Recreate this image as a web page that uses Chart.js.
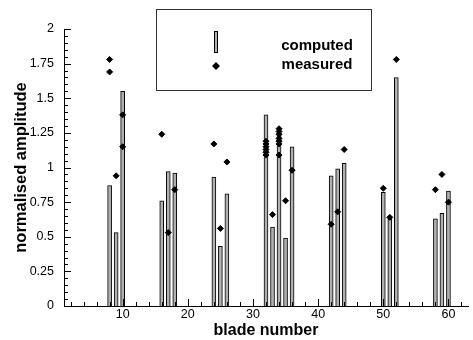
<!DOCTYPE html>
<html>
<head>
<meta charset="utf-8">
<script src="https://cdn.jsdelivr.net/npm/chart.js@4/dist/chart.umd.min.js"></script>
<style>
  html, body { margin: 0; padding: 0; background: #fff; }
  #wrap { width: 473px; height: 340px; position: relative; }
</style>
</head>
<body>
<div id="wrap"><canvas id="c" width="473" height="340"></canvas></div>
<script>
// ---- data ----
const computedBlades = [8, 9, 10, 16, 17, 18, 24, 25, 26, 32, 33, 34, 35, 36, 42, 43, 44, 50, 51, 52, 58, 59, 60];
const computedValues = [0.87, 0.53, 1.55, 0.76, 0.97, 0.96, 0.93, 0.43, 0.81, 1.38, 0.57, 1.25, 0.49, 1.15, 0.94, 0.99, 1.03, 0.82, 0.63, 1.65, 0.63, 0.67, 0.83];

const measuredBlades = [8, 8, 9, 10, 10, 16, 17, 18, 24, 25, 26,
  32, 32, 32, 32, 32, 32, 33,
  34, 34, 34, 34, 34, 34, 34, 35, 36,
  42, 43, 44, 50, 51, 52, 58, 59, 60];
const measuredValues = [1.78, 1.69, 0.94, 1.38, 1.15, 1.24, 0.53, 0.84, 1.17, 0.56, 1.04,
  1.19, 1.17, 1.15, 1.13, 1.11, 1.09, 0.66,
  1.28, 1.26, 1.24, 1.21, 1.19, 1.17, 1.09, 0.76, 0.98,
  0.59, 0.68, 1.13, 0.85, 0.64, 1.78, 0.84, 0.95, 0.75];

const xTickLabels = [10, 20, 30, 40, 50, 60];
const yTickLabels = [0, 0.25, 0.5, 0.75, 1, 1.25, 1.5, 1.75, 2];
const seriesNames = ['computed', 'measured'];
const axisTitles = { x: 'blade number', y: 'normalised amplitude' };

const FONT = '"Liberation Sans", Arial, Helvetica, sans-serif';

const customDraw = {
  id: 'customDraw',
  afterDraw(chart) {
    const { ctx, chartArea: a, scales: { x, y } } = chart;
    ctx.save();
    ctx.strokeStyle = '#000';
    ctx.lineWidth = 1;
    ctx.beginPath();
    // y ticks: major every 0.25, minor every 0.05 (inward)
    for (let i = 0; i <= 40; i++) {
      const v = i * 0.05;
      const py = Math.round(y.getPixelForValue(v)) + 0.5;
      const len = (i % 5 === 0) ? 7 : 4;
      ctx.moveTo(a.left, py);
      ctx.lineTo(a.left + len, py);
    }
    // x ticks: major every 10, minor every 2 (inward)
    for (let v = 2; v <= 62; v += 2) {
      const px = Math.round(x.getPixelForValue(v)) + 0.5;
      const len = (v % 10 === 0) ? 7 : 4;
      ctx.moveTo(px, a.bottom);
      ctx.lineTo(px, a.bottom - len);
    }
    ctx.stroke();

    // legend box
    ctx.strokeStyle = '#333';
    ctx.strokeRect(156.5, 9.5, 215, 81);
    // bar icon
    ctx.fillStyle = '#b0b0b0';
    ctx.fillRect(214.5, 31.5, 3, 21);
    ctx.strokeStyle = '#000';
    ctx.strokeRect(214.5, 31.5, 3, 21);
    // diamond icon
    ctx.fillStyle = '#000';
    ctx.beginPath();
    ctx.moveTo(216, 62); ctx.lineTo(220, 66); ctx.lineTo(216, 70); ctx.lineTo(212, 66);
    ctx.closePath();
    ctx.fill();
    // texts
    ctx.font = 'bold 15px ' + FONT;
    ctx.textAlign = 'center';
    ctx.textBaseline = 'middle';
    ctx.fillStyle = '#000';
    ctx.fillText(chart.data.datasets[0].label, 317, 46);
    ctx.fillText(chart.data.datasets[1].label, 317, 65);
    ctx.restore();
  }
};

new Chart(document.getElementById('c'), {
  type: 'bar',
  data: {
    datasets: [
      {
        type: 'bar',
        label: seriesNames[0],
        data: computedBlades.map((b, i) => ({ x: b, y: computedValues[i] })),
        backgroundColor: '#b0b0b0',
        borderColor: '#000',
        borderWidth: 1,
        barThickness: 4,
        order: 2
      },
      {
        type: 'scatter',
        label: seriesNames[1],
        data: measuredBlades.map((b, i) => ({ x: b, y: measuredValues[i] })),
        pointStyle: 'rectRot',
        pointRadius: 3,
        backgroundColor: '#000',
        borderColor: '#000',
        borderWidth: 1,
        order: 1
      }
    ]
  },
  options: {
    responsive: false,
    animation: false,
    events: [],
    layout: { padding: { top: 29, right: 2, left: 0, bottom: 0 } },
    plugins: { legend: { display: false }, tooltip: { enabled: false } },
    scales: {
      x: {
        type: 'linear',
        min: 1,
        max: 63,
        offset: false,
        grid: { display: false, drawTicks: false },
        border: { display: true, color: '#000', width: 1 },
        afterBuildTicks: s => { s.ticks = xTickLabels.map(v => ({ value: v })); },
        afterFit: s => { s.height = 34; },
        ticks: {
          autoSkip: false,
          maxRotation: 0,
          padding: 1,
          color: '#000',
          font: { family: FONT, size: 12.5 },
          callback: v => String(v)
        },
        title: {
          display: true,
          text: axisTitles.x,
          color: '#000',
          font: { family: FONT, size: 16, weight: 'bold' },
          padding: { top: 0, bottom: 0 }
        }
      },
      y: {
        min: 0,
        max: 2,
        grid: { display: false, drawTicks: false },
        border: { display: true, color: '#000', width: 1 },
        afterBuildTicks: s => { s.ticks = yTickLabels.map(v => ({ value: v })); },
        afterFit: s => { s.width = 64; },
        ticks: {
          autoSkip: false,
          padding: 10,
          color: '#000',
          font: { family: FONT, size: 12.5 },
          callback: v => String(v)
        },
        title: {
          display: true,
          text: axisTitles.y,
          color: '#000',
          font: { family: FONT, size: 16.5, weight: 'bold' },
          padding: { top: 12, bottom: 0 }
        }
      }
    }
  },
  plugins: [customDraw]
});
</script>
</body>
</html>
